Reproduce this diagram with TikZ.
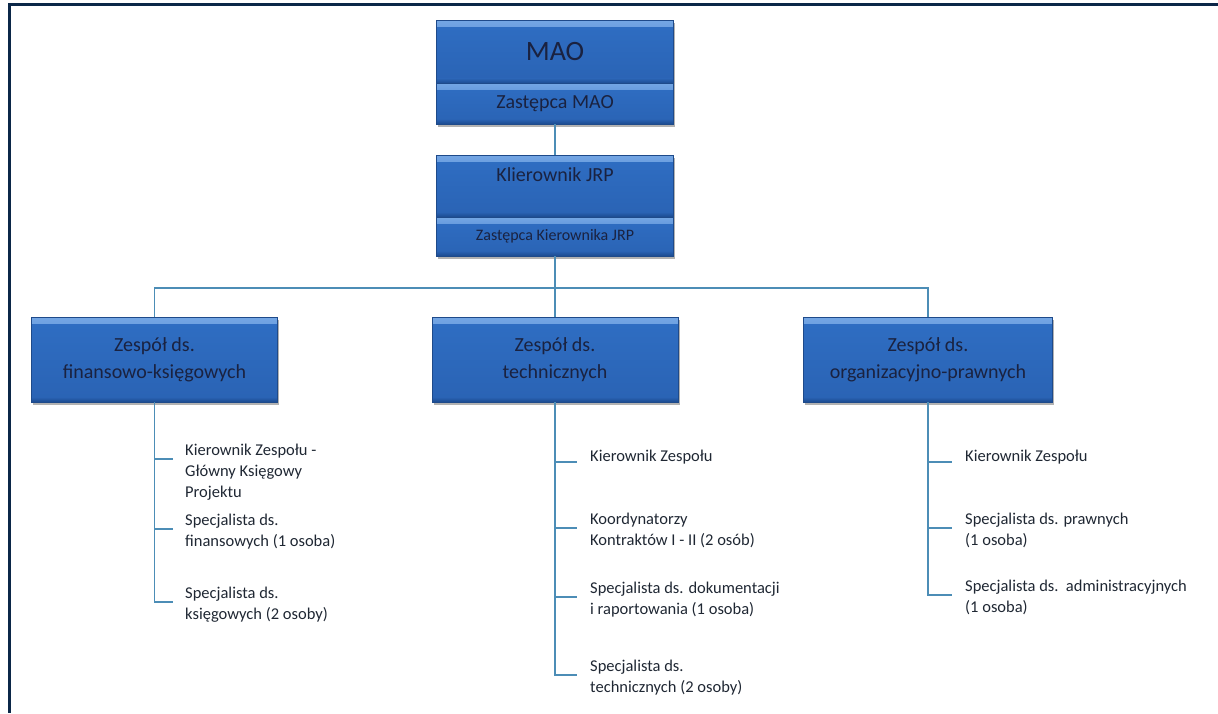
\documentclass[tikz,border=0pt]{standalone}
\usepackage{fontspec}
\setmainfont{Carlito}
\usetikzlibrary{shadows}

\definecolor{framecol}{HTML}{0B2748}
\definecolor{boxhi}{HTML}{74A6E4}
\definecolor{boxmid}{HTML}{2F6EC3}
\definecolor{boxlow}{HTML}{2A63B4}
\definecolor{boxlo}{HTML}{1B4A8F}
\definecolor{boxedge}{HTML}{1E4A8A}
\definecolor{boxtext}{HTML}{1A2240}
\definecolor{linecol}{HTML}{4C8DB6}
\definecolor{itemtext}{HTML}{1F2733}

\tikzset{
  orgbox/.style={rectangle, draw=boxedge, line width=0.6pt,
    top color=boxmid, bottom color=boxlow,
    text=boxtext, inner sep=0pt, minimum width=237pt, align=center,
    drop shadow={shadow xshift=1.5pt, shadow yshift=-2.5pt, opacity=0.3, fill=black},
    path picture={
      % bevel: light top band and dark bottom band
      \fill[top color=boxhi, bottom color=boxmid]
        (path picture bounding box.north west) rectangle
        ([yshift=-6pt]path picture bounding box.north east);
      \fill[top color=boxlow, bottom color=boxlo]
        ([yshift=5pt]path picture bounding box.south west) rectangle
        (path picture bounding box.south east);
    }},
  teambox/.style={orgbox, minimum width=246pt, minimum height=85pt,
    font=\fontsize{20}{27}\selectfont},
  item/.style={anchor=north west, inner sep=0pt, align=left, text=itemtext,
    font=\fontsize{16.5}{21}\selectfont, execute at begin node=\strut},
  conn/.style={draw=linecol, line width=1.4pt},
  frameline/.style={draw=framecol, line width=3pt}
}

\begin{document}
\begin{tikzpicture}[x=1pt, y=-1pt]
\useasboundingbox (0,0) rectangle (1218,713);

% page frame (top and left edges)
\draw[frameline] (1218,4) -- (9,4) -- (9,713);

% management boxes
\node[orgbox, minimum height=63pt, font=\fontsize{28}{32}\selectfont] (mao) at (555,52) {MAO};
\node[orgbox, minimum height=41pt, font=\fontsize{20}{24}\selectfont] (zmao) at (555,103.5) {Zastępca MAO};
\node[orgbox, minimum height=62pt, font=\fontsize{20}{24}\selectfont, text depth=22pt] (kjrp) at (555,186) {Klierownik JRP};
\node[orgbox, minimum height=39pt, font=\fontsize{16}{20}\selectfont] (zkjrp) at (555,236.5) {Zastępca Kierownika JRP};

% team boxes
\node[teambox] (fin) at (154.5,359.5) {Zespół ds.\\finansowo-księgowych};
\node[teambox] (tech) at (555,359.5) {Zespół ds.\\technicznych};
\node[teambox, minimum width=249pt] (org) at (928,359.5) {Zespół ds.\\organizacyjno-prawnych};

% hierarchy connectors
\coordinate (hub) at (555,288);
\draw[conn] (zmao) -- (kjrp);
\draw[conn] (zkjrp.south) -- (hub);
\draw[conn] (fin.north) |- (hub) -| (org.north);
\draw[conn] (hub) -- (tech.north);

% financial team members
\coordinate (ft1) at (173,459);
\coordinate (ft2) at (173,529);
\coordinate (ft3) at (173,602);
\node[item] (f1) at (185,444) {Kierownik Zespołu -\\Główny Księgowy\\Projektu};
\node[item] (f2) at (185,514) {Specjalista ds.\\finansowych (1 osoba)};
\node[item] (f3) at (185,587) {Specjalista ds.\\księgowych (2 osoby)};
\draw[conn] (fin.south) |- (ft3);
\draw[conn] (fin.south |- ft1) -- (ft1);
\draw[conn] (fin.south |- ft2) -- (ft2);

% technical team members
\coordinate (tt1) at (577,462);
\coordinate (tt2) at (577,528);
\coordinate (tt3) at (577,597);
\coordinate (tt4) at (577,675);
\node[item] (t1) at (590,447) {Kierownik Zespołu};
\node[item] (t2) at (590,513) {Koordynatorzy\\Kontraktów I - II (2 osób)};
\node[item] (t3) at (590,582) {Specjalista ds. dokumentacji\\i raportowania (1 osoba)};
\node[item] (t4) at (590,660) {Specjalista ds.\\technicznych (2 osoby)};
\draw[conn] (tech.south) |- (tt4);
\draw[conn] (tech.south |- tt1) -- (tt1);
\draw[conn] (tech.south |- tt2) -- (tt2);
\draw[conn] (tech.south |- tt3) -- (tt3);

% organisational-legal team members
\coordinate (ot1) at (952,462);
\coordinate (ot2) at (952,528);
\coordinate (ot3) at (952,595);
\node[item] (o1) at (965,447) {Kierownik Zespołu};
\node[item] (o2) at (965,513) {Specjalista ds. prawnych\\(1 osoba)};
\node[item] (o3) at (965,580) {Specjalista ds.\ \ administracyjnych\\(1 osoba)};
\draw[conn] (org.south) |- (ot3);
\draw[conn] (org.south |- ot1) -- (ot1);
\draw[conn] (org.south |- ot2) -- (ot2);
\end{tikzpicture}
\end{document}
